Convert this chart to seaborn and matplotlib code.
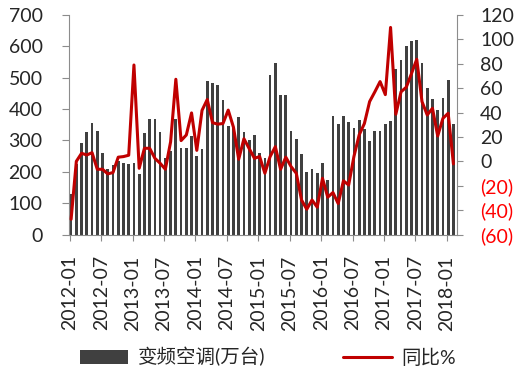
import numpy as np
import pandas as pd
import matplotlib
matplotlib.use('Agg')
import matplotlib.pyplot as plt
from matplotlib.patches import Patch
from matplotlib.lines import Line2D
import seaborn as sns

# monthly data, 2012-01 .. 2018-02
months = pd.period_range('2012-01', '2018-02', freq='M').strftime('%Y-%m').tolist()

units = [128, 225, 293, 328, 357, 331, 261, 208, 221, 235, 227, 225,
         229, 193, 325, 367, 367, 326, 243, 265, 368, 277, 277, 314,
         250, 273, 490, 484, 478, 429, 346, 340, 376, 328, 301, 318,
         259, 243, 510, 546, 445, 445, 331, 304, 256, 199, 209, 197,
         227, 173, 379, 352, 377, 360, 339, 366, 336, 299, 329, 329,
         351, 363, 528, 555, 602, 617, 620, 546, 466, 431, 397, 436,
         493, 351]

yoy = [-47.5, 0, 6.6, 5.2, 7.1, -6.5, -6.5, -10.3, -9.2, 3.4, 3.9, 5,
       79, -5.7, 10.7, 10.7, 2.5, -1.6, -6.5, 16, 67.3, 17, 21.6, 39.7,
       9, 41.8, 50.7, 31.7, 30.5, 31, 42, 28, 1.7, 18.5, 10.5, 2.5,
       3.9, -9.8, 3.9, 12, -6.5, 3.4, -4.3, -9.8, -31.7, -39.3, -31.7, -37.6,
       -13.9, -29.4, -25.6, -34.6, -16, -19.4, 3.9, 21.6, 31, 49, 57, 65.4,
       54.7, 109.8, 38.6, 57, 60.8, 72, 83.7, 49, 38, 43.5, 20.8, 35.3,
       39.4, -2.1]

tick_labels = ['2012-01', '2012-07', '2013-01', '2013-07', '2014-01', '2014-07',
               '2015-01', '2015-07', '2016-01', '2016-07', '2017-01', '2017-07',
               '2018-01']

df = pd.DataFrame({'month': months, 'units': units, 'yoy': yoy})
df['pos'] = np.arange(len(df))

sns.set_style('white')
plt.rcParams['font.family'] = ['Lato', 'Noto Sans CJK SC', 'DejaVu Sans']

bar_color = '#404040'
line_color = '#C00000'
axis_color = '#8c8c8c'

fig = plt.figure(figsize=(5.2, 3.73), dpi=100)
ax = fig.add_axes([0.1327, 0.3713, 0.879 - 0.1327, 0.9598 - 0.3713])

sns.barplot(data=df, x='pos', y='units', native_scale=True, color=bar_color,
            saturation=1, width=0.52, linewidth=0, ax=ax)

ax2 = ax.twinx()
sns.lineplot(data=df, x='pos', y='yoy', color=line_color, linewidth=2.2, ax=ax2)

ax.set_xlim(-0.4, 73.7)
ax.set_ylim(0, 700)
ax2.set_ylim(-60, 120)

ax.set_yticks(range(0, 701, 100))
ax.set_xticks([6 * k - 0.25 for k in range(len(tick_labels))])
ax.set_xticklabels(tick_labels, rotation=90)

rticks = list(range(-60, 121, 20))
ax2.set_yticks(rticks)
ax2.set_yticklabels([f'({-v})' if v < 0 else str(v) for v in rticks])
for lab, v in zip(ax2.get_yticklabels(), rticks):
    if v < 0:
        lab.set_color('red')

ax.set_xlabel('')
ax.set_ylabel('')
ax2.set_xlabel('')
ax2.set_ylabel('')

for s in ['top', 'right']:
    ax.spines[s].set_visible(False)
for s in ['top', 'left', 'bottom']:
    ax2.spines[s].set_visible(False)
for s in ['left', 'bottom']:
    ax.spines[s].set_color(axis_color)
ax2.spines['right'].set_color(axis_color)

ax.tick_params(axis='y', direction='out', length=5, color=axis_color, pad=14,
               labelsize=14, left=True)
ax.tick_params(axis='x', direction='out', length=4, color=axis_color, pad=11,
               labelsize=14, bottom=True)
ax2.tick_params(axis='y', direction='out', length=4.5, color=axis_color, pad=12,
                labelsize=14, right=True)

handles = [Patch(facecolor=bar_color, edgecolor='none'),
           Line2D([0], [0], color=line_color, linewidth=2.2)]
fig.legend(handles, ['变频空调(万台)', '同比%'], loc='center',
           bbox_to_anchor=(0.515, 0.043), ncol=2, frameon=False,
           fontsize=14, handlelength=2.5, handletextpad=0.5,
           columnspacing=4.0)

fig.savefig('out.png', dpi=100)
